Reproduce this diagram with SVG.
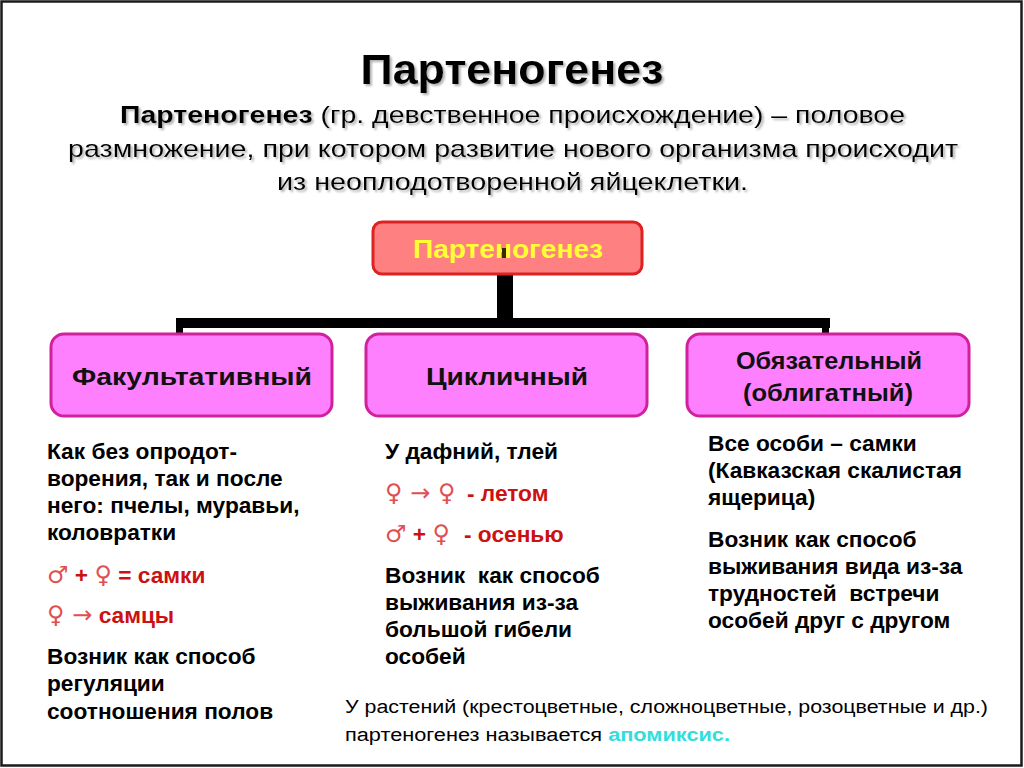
<svg xmlns="http://www.w3.org/2000/svg" width="1024" height="768" viewBox="0 0 1024 768">
<defs>
<style>
.t{font-family:"Liberation Sans",Arial,sans-serif;fill:#000}
.b{font-weight:bold}
.col{font-family:"Liberation Sans",Arial,sans-serif;font-weight:bold;font-size:22.7px;fill:#000}
.red{fill:#cc1111}
.sym{font-family:"DejaVu Sans","Liberation Sans",sans-serif;font-weight:normal;fill:#e05050;font-size:24px}
.kind{fill:#ff80ff;stroke:#d0209e;stroke-width:3}
.kt{font-family:"Liberation Sans",Arial,sans-serif;font-weight:bold;font-size:24px;fill:#111;text-anchor:middle}
.conn{fill:#000}
</style>
<filter id="sh" x="-5%" y="-20%" width="110%" height="150%">
<feDropShadow dx="2" dy="2" stdDeviation="1" flood-color="#909090" flood-opacity="0.7"/>
</filter>
</defs>
<rect x="0" y="0" width="1024" height="768" fill="#fff"/>
<rect x="1.5" y="1.5" width="1020" height="764" fill="none" stroke="#1a1a1a" stroke-width="2.5"/>

<g id="title" filter="url(#sh)">
<text class="t b" x="512" y="84" font-size="42" text-anchor="middle" textLength="303" lengthAdjust="spacingAndGlyphs">Партеногенез</text>
<text class="t" x="120" y="123" font-size="24" textLength="785" lengthAdjust="spacingAndGlyphs"><tspan font-weight="bold">Партеногенез</tspan> (гр. девственное происхождение) – половое</text>
<text class="t" x="68" y="157" font-size="24" textLength="890" lengthAdjust="spacingAndGlyphs">размножение, при котором развитие нового организма происходит</text>
<text class="t" x="277" y="190" font-size="24" textLength="471" lengthAdjust="spacingAndGlyphs">из неоплодотворенной яйцеклетки.</text>
</g>

<g id="connectors">
<rect class="conn" x="497" y="275" width="16" height="52"/>
<rect class="conn" x="176" y="318" width="654" height="10"/>
<rect class="conn" x="176" y="318" width="7" height="16"/>
<rect class="conn" x="822" y="318" width="7" height="16"/>
</g>

<g id="root">
<rect x="373" y="222" width="269" height="52" rx="9" fill="#ff8080" stroke="#dd2222" stroke-width="3"/>
<text x="508" y="258" font-family="Liberation Sans,Arial,sans-serif" font-weight="bold" font-size="25" fill="#ffff33" text-anchor="middle" textLength="190" lengthAdjust="spacingAndGlyphs">Партеногенез</text>
<rect x="502" y="248" width="4" height="10" fill="#3a2a00"/>
</g>

<g id="facultative">
<rect class="kind" x="51" y="334" width="281" height="82" rx="13"/>
<text class="kt" x="192" y="385" textLength="240" lengthAdjust="spacingAndGlyphs">Факультативный</text>
</g>
<g id="cyclic">
<rect class="kind" x="366" y="334" width="281" height="82" rx="13"/>
<text class="kt" x="507" y="385" textLength="162" lengthAdjust="spacingAndGlyphs">Цикличный</text>
</g>
<g id="obligate">
<rect class="kind" x="687" y="334" width="282" height="82" rx="13"/>
<text class="kt" x="829" y="369" font-weight="normal" textLength="186" lengthAdjust="spacingAndGlyphs">Обязательный</text>
<text class="kt" x="828" y="401" textLength="170" lengthAdjust="spacingAndGlyphs">(облигатный)</text>
</g>

<g id="facultative-text">
<text class="col" x="47" y="459">Как без опродот-</text>
<text class="col" x="47" y="486">ворения, так и после</text>
<text class="col" x="47" y="513">него: пчелы, муравьи,</text>
<text class="col" x="47" y="540">коловратки</text>
<text class="col red" x="47" y="583"><tspan class="sym">♂</tspan> + <tspan class="sym">♀</tspan> = самки</text>
<text class="col red" x="47" y="623"><tspan class="sym">♀ →</tspan> самцы</text>
<text class="col" x="47" y="664">Возник как способ</text>
<text class="col" x="47" y="691">регуляции</text>
<text class="col" x="47" y="719">соотношения полов</text>
</g>

<g id="cyclic-text">
<text class="col" x="385" y="459">У дафний, тлей</text>
<text class="col red" x="385" y="501"><tspan class="sym">♀ → ♀</tspan><tspan x="467">- летом</tspan></text>
<text class="col red" x="385" y="542"><tspan class="sym">♂</tspan> + <tspan class="sym">♀</tspan><tspan x="464">- осенью</tspan></text>
<text class="col" x="385" y="583" xml:space="preserve">Возник  как способ</text>
<text class="col" x="385" y="610">выживания из-за</text>
<text class="col" x="385" y="637">большой гибели</text>
<text class="col" x="385" y="664">особей</text>
</g>

<g id="obligate-text">
<text class="col" x="708" y="451">Все особи – самки</text>
<text class="col" x="708" y="478">(Кавказская скалистая</text>
<text class="col" x="708" y="505">ящерица)</text>
<text class="col" x="708" y="547">Возник как способ</text>
<text class="col" x="708" y="574">выживания вида из-за</text>
<text class="col" x="708" y="601" xml:space="preserve">трудностей  встречи</text>
<text class="col" x="708" y="628">особей друг с другом</text>
</g>

<g id="footnote">
<text class="t" x="345" y="713" font-size="18" textLength="643" lengthAdjust="spacingAndGlyphs">У растений (крестоцветные, сложноцветные, розоцветные и др.)</text>
<text class="t" x="345" y="741" font-size="18" textLength="385" lengthAdjust="spacingAndGlyphs">партеногенез называется <tspan fill="#33dddd" font-weight="bold">апомиксис.</tspan></text>
</g>
</svg>
